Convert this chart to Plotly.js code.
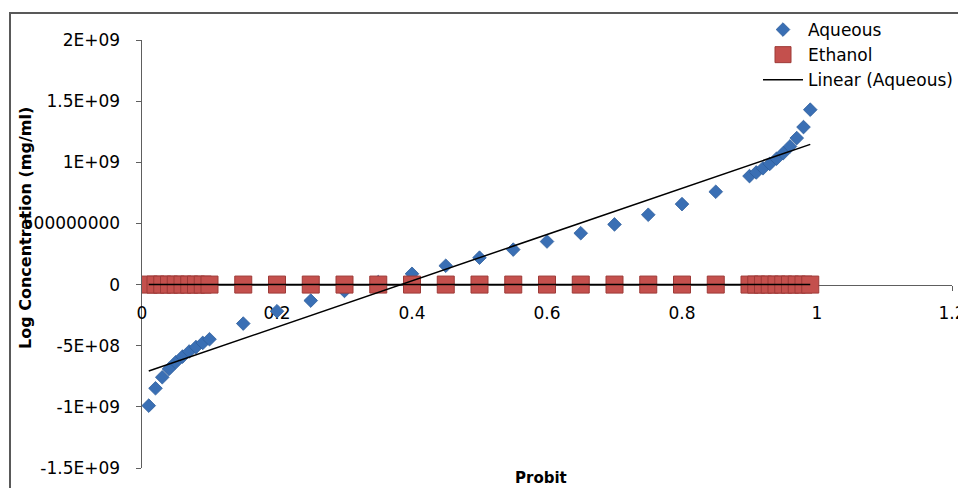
<!DOCTYPE html>
<html>
<head>
<meta charset="utf-8">
<script src="https://cdn.plot.ly/plotly-3.0.1.min.js"></script>
<style>
html,body{margin:0;padding:0;background:#fff;overflow:hidden;}
#wrap{position:relative;width:958px;height:488px;}
#chart{position:absolute;left:0;top:0;width:958px;height:488px;}
#frame{position:absolute;left:9px;top:12px;width:960px;height:490px;border-top:2px solid #595959;border-left:2px solid #595959;pointer-events:none;}
</style>
</head>
<body>
<div id="wrap"><div id="chart"></div><div id="frame"></div></div>
<script>
// Probit values (x)
var probit = [0.01,0.02,0.03,0.04,0.05,0.06,0.07,0.08,0.09,0.10,
              0.15,0.20,0.25,0.30,0.35,0.40,0.45,0.50,0.55,0.60,0.65,0.70,0.75,0.80,0.85,
              0.90,0.91,0.92,0.93,0.94,0.95,0.96,0.97,0.98,0.99];
// Log concentration (mg/ml), aqueous extract
var aqueous = [-9.9e8,-8.48e8,-7.58e8,-6.9e8,-6.35e8,-5.89e8,-5.47e8,-5.11e8,-4.77e8,-4.47e8,
               -3.19e8,-2.18e8,-1.31e8,-5.2e7,2.0e7,8.8e7,1.54e8,2.2e8,2.86e8,3.52e8,4.2e8,4.92e8,5.71e8,6.58e8,7.59e8,
               8.87e8,9.17e8,9.51e8,9.87e8,1.029e9,1.075e9,1.13e9,1.198e9,1.288e9,1.43e9];
// Log concentration (mg/ml), ethanol extract (near zero on this scale)
var ethanol = [0,0,0,0,0,0,0,0,0,0,
               0,0,0,0,0,0,0,0,0,0,0,0,0,0,0,
               0,0,0,0,0,0,0,0,0,0];
// Axis ticks
var xTickVals = [0,0.2,0.4,0.6,0.8,1,1.2];
var xTickText = ["0","0.2","0.4","0.6","0.8","1","1.2"];
var yTickVals = [-1.5e9,-1e9,-5e8,0,5e8,1e9,1.5e9,2e9];
var yTickText = ["-1.5E+09","-1E+09","-5E+08","0","500000000","1E+09","1.5E+09","2E+09"];

function linfit(xs, ys){
  var n = xs.length, sx=0, sy=0, sxx=0, sxy=0;
  for (var i=0;i<n;i++){ sx+=xs[i]; sy+=ys[i]; sxx+=xs[i]*xs[i]; sxy+=xs[i]*ys[i]; }
  var m = (n*sxy - sx*sy)/(n*sxx - sx*sx);
  var b = (sy - m*sx)/n;
  var x0 = Math.min.apply(null, xs), x1 = Math.max.apply(null, xs);
  return {x:[x0,x1], y:[m*x0+b, m*x1+b]};
}
var fitA = linfit(probit, aqueous);
var fitE = linfit(probit, ethanol);

var FONT = "DejaVu Sans, sans-serif";

var traces = [
  {x: probit, y: aqueous, type:'scatter', mode:'markers', name:'Aqueous',
   marker:{symbol:'diamond', size:10.5, color:'#3A6FB4', line:{color:'#2F5E9C', width:0.8}}},
  {x: probit, y: ethanol, type:'scatter', mode:'markers', name:'Ethanol',
   marker:{symbol:'square', size:17, color:'#C4504D', line:{color:'#9E3A37', width:1}}},
  {x: fitE.x, y: fitE.y, type:'scatter', mode:'lines', name:'Linear (Ethanol)', showlegend:false,
   line:{color:'#000', width:1.5}},
  {x: fitA.x, y: fitA.y, type:'scatter', mode:'lines', name:'Linear (Aqueous)',
   line:{color:'#000', width:1.5}}
];

var layout = {
  width:958, height:488,
  margin:{l:142, r:6, t:40, b:20, pad:0, autoexpand:false},
  paper_bgcolor:'#fff', plot_bgcolor:'rgba(0,0,0,0)',
  font:{family:FONT, size:17, color:'#000'},
  showlegend:true,
  legend:{xref:'container', yref:'container', x:758/958, y:1-12/488, xanchor:'left', yanchor:'top',
          bgcolor:'rgba(0,0,0,0)', itemwidth:40,
          font:{family:FONT, size:17, color:'#000'}, tracegroupgap:0},
  xaxis:{range:[0,1.2], tickvals:xTickVals, ticktext:xTickText, showgrid:false, zeroline:false,
         showline:true, linecolor:'#5e5e5e', linewidth:1.5, ticks:'outside', ticklen:5, tickcolor:'#5e5e5e',
         anchor:'free', position:1.5/3.5, layer:'below traces', ticklabelstandoff:8, ticklabeloverflow:'allow',
         automargin:false, tickfont:{family:FONT, size:17, color:'#000'}},
  yaxis:{range:[-1.5e9,2e9], tickvals:yTickVals, ticktext:yTickText, showgrid:false, zeroline:false,
         showline:true, linecolor:'#5e5e5e', linewidth:1.5, ticks:'outside', ticklen:5, tickcolor:'#5e5e5e',
         layer:'below traces', ticklabelstandoff:12, ticklabeloverflow:'allow',
         automargin:false, tickfont:{family:FONT, size:17, color:'#000'}},
  annotations:[
    {text:'<b>Log Concentration (mg/ml)</b>', xref:'paper', yref:'paper', x:(25-142)/810, y:(468-228)/428,
     xanchor:'center', yanchor:'middle', textangle:-90, showarrow:false, font:{family:FONT, size:16, color:'#000'}},
    {text:'<b>Probit</b>', xref:'paper', yref:'paper', x:(541-142)/810, y:(468-478)/428,
     xanchor:'center', yanchor:'middle', showarrow:false, font:{family:FONT, size:15, color:'#000'}}
  ]
};

Plotly.newPlot('chart', traces, layout, {staticPlot:true, displayModeBar:false});
</script>
</body>
</html>
